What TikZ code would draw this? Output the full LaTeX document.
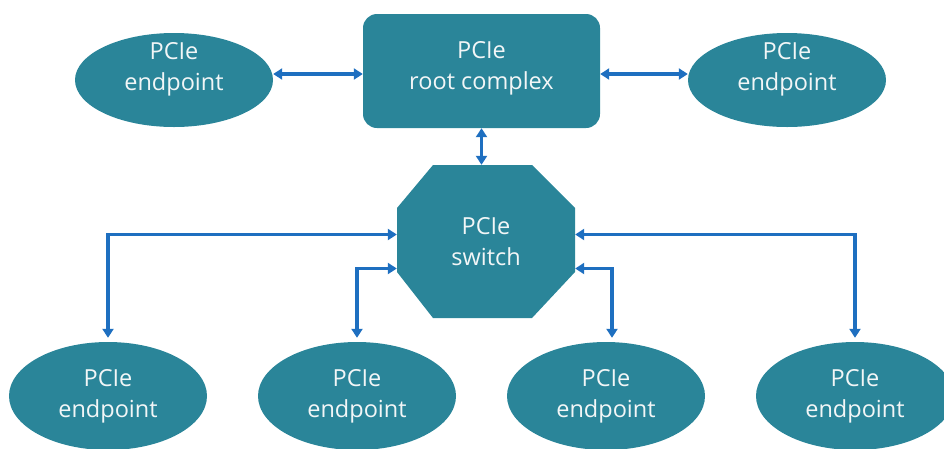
\documentclass[tikz,border=0pt]{standalone}
\usepackage{fontspec}
\setmainfont{Open Sans}
\usetikzlibrary{shapes.geometric,arrows.meta}
\definecolor{tealfill}{HTML}{2A8599}
\definecolor{arrowblue}{HTML}{1E6FC0}
\definecolor{lighttext}{HTML}{F2F6F7}
\begin{document}
\begin{tikzpicture}[x=1pt,y=-1pt,
  lbl/.style={text=lighttext,font=\fontsize{23.5}{31}\selectfont,align=center,inner sep=0pt},
  ep/.style={ellipse,fill=tealfill,minimum width=198pt,minimum height=94pt,inner sep=0pt},
  epb/.style={ellipse,fill=tealfill,minimum width=198pt,minimum height=108pt,inner sep=0pt},
  link/.style={draw=arrowblue,line width=3.2pt,{Triangle[length=9pt,width=11pt]}-{Triangle[length=9pt,width=11pt]}}]
\useasboundingbox (0,0) rectangle (944,448);
% top row
\node[ep] (e1) at (174,80) {};
\node[lbl] (e1t) at ([yshift=11pt]e1.center) {PCIe\\endpoint};
\node[fill=tealfill,rounded corners=14pt,minimum width=237pt,minimum height=114pt,inner sep=0pt] (rc) at (481.5,71) {};
\node[lbl] (rct) at ([yshift=3pt]rc.center) {PCIe\\root complex};
\node[ep] (e2) at (787,80) {};
\node[lbl] (e2t) at ([yshift=11pt]e2.center) {PCIe\\endpoint};
% switch (octagon)
\fill[tealfill] (433,165) -- (532,165) -- (575,208) -- (575,272) -- (532,318) -- (433,318) -- (397,272) -- (397,208) -- cycle;
\node[lbl,minimum width=178pt,minimum height=153pt] (sw) at (486,241.5) {PCIe\\switch};
% bottom row
\node[epb,lbl] (b1) at (108,396) {PCIe\\endpoint};
\node[epb,lbl] (b2) at (357,396) {PCIe\\endpoint};
\node[epb,lbl] (b3) at (606,396) {PCIe\\endpoint};
\node[epb,lbl] (b4) at (855,396) {PCIe\\endpoint};
% connectors
\draw[link] ([yshift=6pt]e1.east) -- ([yshift=6pt]e1.east -| rc.west);
\draw[link] ([yshift=6pt]e2.west) -- ([yshift=6pt]e2.west -| rc.east);
\draw[link] (rc.south) -- (rc.south |- sw.north);
\draw[link] ([yshift=7pt]sw.west) -| ([yshift=4pt]b1.north);
\draw[link] ([yshift=-27pt]sw.west) -| ([yshift=4pt]b2.north);
\draw[link] ([yshift=-27pt]sw.east) -| ([xshift=6pt,yshift=4pt]b3.north);
\draw[link] ([yshift=7pt]sw.east) -| ([yshift=4pt]b4.north);
\end{tikzpicture}
\end{document}
